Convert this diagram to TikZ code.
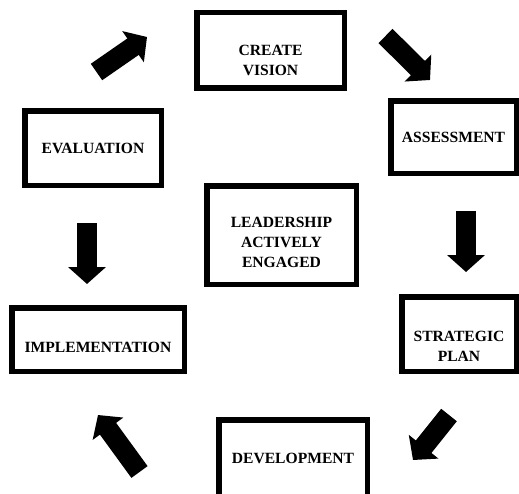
\documentclass[tikz,border=0pt]{standalone}
\usepackage{fontspec}
\setmainfont{Liberation Serif}
\usetikzlibrary{positioning, arrows.meta}
\tikzstyle{BlockArrow} = [
%Create custom block arrow style:
line width = 20pt, line cap = butt,
-{Triangle[width = 37pt, length = 17pt]}
]

\begin{document}
\begin{tikzpicture}[x = 1pt, y = -1pt,
			stage/.style = {rectangle, draw, line width = 5.5pt, align = center, font = \fontsize{15.6}{20}\selectfont\bfseries},
		]
		\useasboundingbox (0,0) rectangle (519,493);
		\clip (0,0) rectangle (519,493);
		\node[stage, minimum width = 147.5pt, minimum height = 75.5pt, text height = 51pt, text depth = 1pt](Vision) at (270.5,50){CREATE\\VISION};
		\node[stage, minimum width = 125.5pt, minimum height = 72.5pt](Assess) at (453.5,137){ASSESSMENT};
		\node[stage, minimum width = 136.5pt, minimum height = 74.5pt](Eval) at (93,148){EVALUATION};
		\node[stage, minimum width = 149.5pt, minimum height = 98.5pt, text height = 65pt, text depth = 1pt](Lead) at (281.5,235){LEADERSHIP\\ACTIVELY\\ENGAGED};
		\node[stage, minimum width = 172.5pt, minimum height = 63.5pt, text height = 27pt, text depth = 0.6pt](Impl) at (98,339.5){IMPLEMENTATION};
		\node[stage, minimum width = 114.5pt, minimum height = 74.5pt, text height = 55pt, text depth = 1pt](Plan) at (459,334){STRATEGIC\\PLAN};
		\node[stage, minimum width = 148.5pt, minimum height = 76.5pt](Devel) at (293,458){DEVELOPMENT};

		\coordinate(A1) at (96.5,72);
		\coordinate(B1) at (147,37);
		\coordinate(A2) at (385.5,36);
		\coordinate(B2) at (430,80);
		\coordinate(A3) at (466,211);
		\coordinate(B3) at (466,272);
		\coordinate(A4) at (87,223);
		\coordinate(B4) at (87,284);
		\coordinate(A5) at (449,415);
		\coordinate(B5) at (413,460);
		\coordinate(A6) at (139.5,472);
		\coordinate(B6) at (98,415);

		\draw[BlockArrow](A1)--(B1);
		\draw[BlockArrow](A2)--(B2);
		\draw[BlockArrow](A3)--(B3);
		\draw[BlockArrow](A4)--(B4);
		\draw[BlockArrow](A5)--(B5);
		\draw[BlockArrow](A6)--(B6);

	\end{tikzpicture}
\end{document}
